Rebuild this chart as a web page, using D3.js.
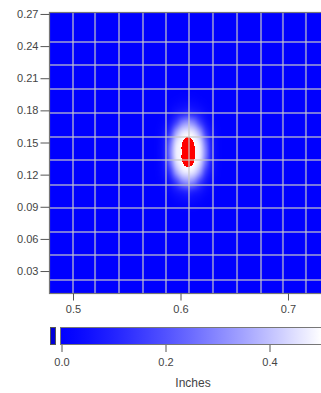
<!DOCTYPE html>
<html>
<head>
<meta charset="utf-8">
<script src="https://cdn.jsdelivr.net/npm/d3@7"></script>
<style>
  html, body { margin: 0; padding: 0; background: #fff; }
  svg { display: block; }
  text { font-family: "Liberation Sans", Arial, sans-serif; fill: #444; }
</style>
</head>
<body>
<div id="chart"></div>
<script>
// axis ticks
const yTicks = [0.03, 0.06, 0.09, 0.12, 0.15, 0.18, 0.21, 0.24, 0.27];
const xTicks = [0.5, 0.6, 0.7];
const barTicks = [0.0, 0.2, 0.4];

// cell boundaries drawn as the light grid
const gridX = [0.5, 0.5205, 0.5428, 0.5651, 0.5865, 0.6079, 0.6302, 0.6526, 0.6749, 0.6953, 0.7167];
const gridY = [0.2439, 0.2224, 0.2000, 0.1776, 0.1551, 0.1337, 0.1103, 0.0889, 0.0664, 0.0450, 0.0216];

// depth field (inches) around the hot spot; zero elsewhere
const fieldX = [0.5735, 0.579, 0.5847, 0.5903, 0.5958, 0.6014, 0.607, 0.6126, 0.6182, 0.6237, 0.6293, 0.6349, 0.6405];
const fieldY = [0.197, 0.1877, 0.1783, 0.169, 0.1597, 0.1503, 0.141, 0.1317, 0.1223, 0.113, 0.1037, 0.0943, 0.085];
const fieldValues = [
  [0, 0, 0, 0, 0, 0.004, 0.006, 0.004, 0, 0, 0, 0, 0],
  [0, 0, 0, 0.006, 0.017, 0.028, 0.034, 0.028, 0.017, 0.006, 0, 0, 0],
  [0, 0, 0.009, 0.029, 0.061, 0.088, 0.109, 0.088, 0.061, 0.029, 0.009, 0, 0],
  [0, 0.005, 0.025, 0.072, 0.164, 0.276, 0.316, 0.276, 0.164, 0.072, 0.025, 0.005, 0],
  [0, 0.013, 0.054, 0.152, 0.336, 0.442, 0.466, 0.442, 0.336, 0.152, 0.054, 0.013, 0],
  [0, 0.018, 0.073, 0.244, 0.434, 0.497, 0.54, 0.497, 0.434, 0.244, 0.073, 0.018, 0],
  [0, 0.02, 0.08, 0.28, 0.46, 0.51, 0.75, 0.51, 0.46, 0.28, 0.08, 0.02, 0],
  [0, 0.018, 0.073, 0.244, 0.434, 0.497, 0.54, 0.497, 0.434, 0.244, 0.073, 0.018, 0],
  [0, 0.013, 0.054, 0.152, 0.336, 0.442, 0.466, 0.442, 0.336, 0.152, 0.054, 0.013, 0],
  [0, 0.005, 0.025, 0.072, 0.164, 0.276, 0.316, 0.276, 0.164, 0.072, 0.025, 0.005, 0],
  [0, 0, 0.009, 0.029, 0.061, 0.088, 0.109, 0.088, 0.061, 0.029, 0.009, 0, 0],
  [0, 0, 0, 0.006, 0.017, 0.028, 0.034, 0.028, 0.017, 0.006, 0, 0, 0],
  [0, 0, 0, 0, 0, 0.004, 0.006, 0.004, 0, 0, 0, 0, 0]
];
const colorMax = 0.5;
const unitLabel = 'Inches';

const width = 321, height = 393;
const plot = { left: 50, top: 13, right: 321, bottom: 293 };

const x = d3.scaleLinear().domain([0.4786, 0.7307]).range([plot.left, plot.right]);
const y = d3.scaleLinear().domain([0.0095, 0.2709]).range([plot.bottom, plot.top]);
const color = d3.scaleLinear().domain([0, colorMax])
  .range(['#0000ff', '#ffffff'])
  .interpolate(d3.interpolateRgb.gamma(0.8))
  .clamp(true);
const overColor = '#ff0000';

const svg = d3.select('#chart').append('svg')
  .attr('width', width)
  .attr('height', height);

// smooth (Catmull-Rom) lookup into the field, zero outside it
function cubic(p0, p1, p2, p3, t) {
  return p1 + 0.5 * t * (p2 - p0 + t * (2 * p0 - 5 * p1 + 4 * p2 - p3 + t * (3 * (p1 - p2) + p3 - p0)));
}
function cell(j, i) {
  if (j < 0 || j >= fieldY.length || i < 0 || i >= fieldX.length) return 0;
  return fieldValues[j][i];
}
const negY = fieldY.map(d => -d);
function fieldAt(vx, vy) {
  const n = fieldX.length, m = fieldY.length;
  if (vx <= fieldX[0] || vx >= fieldX[n - 1]) return 0;
  if (vy >= fieldY[0] || vy <= fieldY[m - 1]) return 0;
  const i = d3.bisectRight(fieldX, vx) - 1;
  const j = d3.bisectRight(negY, -vy) - 1;
  const tx = (vx - fieldX[i]) / (fieldX[i + 1] - fieldX[i]);
  const ty = (vy - fieldY[j]) / (fieldY[j + 1] - fieldY[j]);
  const rows = [-1, 0, 1, 2].map(dj =>
    cubic(cell(j + dj, i - 1), cell(j + dj, i), cell(j + dj, i + 1), cell(j + dj, i + 2), tx));
  return Math.max(0, cubic(rows[0], rows[1], rows[2], rows[3], ty));
}

// raster heat map painted on a canvas, then placed in the svg
const pw = plot.right - plot.left, ph = plot.bottom - plot.top;
const canvas = document.createElement('canvas');
canvas.width = pw;
canvas.height = ph;
const ctx = canvas.getContext('2d');
const img = ctx.createImageData(pw, ph);
for (let py = 0; py < ph; py++) {
  const vy = y.invert(plot.top + py + 0.5);
  for (let px = 0; px < pw; px++) {
    const vx = x.invert(plot.left + px + 0.5);
    const v = fieldAt(vx, vy);
    const c = d3.rgb(v > colorMax ? overColor : color(v));
    const k = (py * pw + px) * 4;
    img.data[k] = c.r;
    img.data[k + 1] = c.g;
    img.data[k + 2] = c.b;
    img.data[k + 3] = 255;
  }
}
ctx.putImageData(img, 0, 0);

svg.append('image')
  .attr('x', plot.left)
  .attr('y', plot.top)
  .attr('width', pw)
  .attr('height', ph)
  .attr('href', canvas.toDataURL());

// light grid
const grid = svg.append('g')
  .attr('stroke', '#c8c8c8')
  .attr('stroke-opacity', 0.6)
  .attr('stroke-width', 2);
grid.selectAll('line.gx').data(gridX).join('line')
  .attr('class', 'gx')
  .attr('x1', d => x(d)).attr('x2', d => x(d))
  .attr('y1', plot.top).attr('y2', plot.bottom);
grid.selectAll('line.gy').data(gridY).join('line')
  .attr('class', 'gy')
  .attr('x1', plot.left).attr('x2', plot.right)
  .attr('y1', d => y(d)).attr('y2', d => y(d));

// frame
svg.append('rect')
  .attr('x', plot.left - 0.5)
  .attr('y', plot.top - 0.5)
  .attr('width', pw + 10)
  .attr('height', ph + 1)
  .attr('fill', 'none')
  .attr('stroke', '#777')
  .attr('stroke-width', 1.2);

// axes
const yAxis = svg.append('g')
  .attr('transform', `translate(${plot.left - 0.5},0)`)
  .call(d3.axisLeft(y).tickValues(yTicks).tickSize(9).tickPadding(2).tickFormat(d3.format('.2f')));
const xAxis = svg.append('g')
  .attr('transform', `translate(0,${plot.bottom + 0.5})`)
  .call(d3.axisBottom(x).tickValues(xTicks).tickSize(7).tickPadding(5).tickFormat(d3.format('.1f')));

[yAxis, xAxis].forEach(ax => {
  ax.select('.domain').remove();
  ax.selectAll('line').attr('stroke', '#555');
  ax.selectAll('text')
    .attr('fill', '#444')
    .style('font-size', '11px')
    .style('font-family', '"Liberation Sans", Arial, sans-serif');
});

// color bar
const bar = { left: 60, right: 321, top: 327, bottom: 345 };
const cx = d3.scaleLinear().domain([0, colorMax]).range([61.5, 321.5]);

const defs = svg.append('defs');
const grad = defs.append('linearGradient').attr('id', 'bar-grad');
grad.selectAll('stop')
  .data(d3.range(0, 21).map(i => i / 20))
  .join('stop')
  .attr('offset', d => `${d * 100}%`)
  .attr('stop-color', d => color(d * colorMax));

svg.append('rect')
  .attr('x', 50.5)
  .attr('y', bar.top + 0.5)
  .attr('width', 5)
  .attr('height', bar.bottom - bar.top - 1)
  .attr('fill', '#0000d8')
  .attr('stroke', '#555')
  .attr('stroke-width', 1);

svg.append('rect')
  .attr('x', bar.left + 0.5)
  .attr('y', bar.top + 0.5)
  .attr('width', bar.right - bar.left)
  .attr('height', bar.bottom - bar.top - 1)
  .attr('fill', 'url(#bar-grad)')
  .attr('stroke', '#777')
  .attr('stroke-width', 1);

const barAxis = svg.append('g')
  .attr('transform', `translate(0,${bar.bottom})`)
  .call(d3.axisBottom(cx).tickValues(barTicks).tickSize(7).tickPadding(6).tickFormat(d3.format('.1f')));
barAxis.select('.domain').remove();
barAxis.selectAll('line').attr('stroke', '#555');
barAxis.selectAll('text')
  .attr('fill', '#444')
  .style('font-size', '11px')
  .style('font-family', '"Liberation Sans", Arial, sans-serif');

svg.append('text')
  .attr('x', 193)
  .attr('y', 387)
  .attr('text-anchor', 'middle')
  .style('font-size', '12px')
  .text(unitLabel);
</script>
</body>
</html>
